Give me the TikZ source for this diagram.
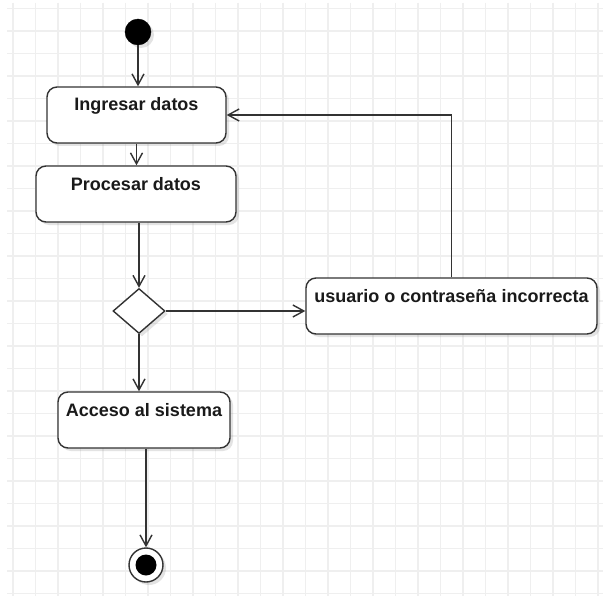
\documentclass[tikz,border=0pt]{standalone}
\usepackage{fontspec}
\setmainfont{Liberation Sans}
\usetikzlibrary{arrows.meta,shapes.geometric,shadows}
\definecolor{gridc}{HTML}{EFEFEF}
\definecolor{linec}{HTML}{333333}
\definecolor{textc}{HTML}{1A1A1A}
\begin{document}
\begin{tikzpicture}[x=1pt,y=-1pt,
  shade/.style={drop shadow={shadow xshift=3pt,shadow yshift=-3pt,opacity=0.22,fill=gray}},
  act/.style={draw=linec,line width=1.4pt,rounded corners=10pt,fill=white,
    inner sep=0pt,text height=24pt,text depth=32pt,text=textc,
    font=\fontsize{18}{21}\selectfont\bfseries,shade},
  decision/.style={diamond,draw=linec,line width=1.4pt,fill=white,inner sep=0pt,
    minimum width=52pt,minimum height=45pt,shade},
  initial/.style={circle,fill=black,draw=black,minimum size=26pt,inner sep=0pt,shade},
  final/.style={circle,draw=linec,line width=1.4pt,fill=white,minimum size=34pt,inner sep=0pt,shade,
    path picture={\fill[black] (path picture bounding box.center) circle (10.5pt);}},
  flow/.style={draw=linec,line width=1.4pt,
    -{Straight Barb[length=11pt,width=12pt,line width=1.4pt]}},
  gridline/.style={draw=gridc,line width=1.5pt}]

  % canvas and background grid
  \fill[white] (0,0) rectangle (610,596);
  \useasboundingbox (0,0) rectangle (610,596);
  \foreach \k in {0,...,26}{
    \draw[gridline] ({13+22.5*\k},3) -- ({13+22.5*\k},596);
    \draw[gridline] (7,{8.5+22.5*\k}) -- (603,{8.5+22.5*\k});
  }

  % nodes
  \node[initial] (start) at (138,32) {};
  \node[act,minimum width=179pt] (ing) at (136.5,115) {Ingresar datos};
  \node[act,minimum width=200pt] (proc) at (136,194) {Procesar datos};
  \node[decision] (dec) at (139,311) {};
  \node[act,minimum width=291pt] (err) at (451.5,306) {usuario o contraseña incorrecta};
  \node[act,minimum width=172pt] (acc) at (144,420) {Acceso al sistema};
  \node[final] (end) at (146,565) {};

  % connectors
  \draw[flow] (start) -- (start |- ing.north);
  \draw[flow] (ing.south) -- (ing.south |- proc.north);
  \draw[flow] (proc.south -| dec) -- (dec.north);
  \draw[flow] (dec.east) -- (dec.east -| err.west);
  \draw[flow] (err.north) |- (ing.east);
  \draw[flow] (dec.south) -- (dec.south |- acc.north);
  \draw[flow] (acc.south -| end) -- (end.north);
\end{tikzpicture}
\end{document}
